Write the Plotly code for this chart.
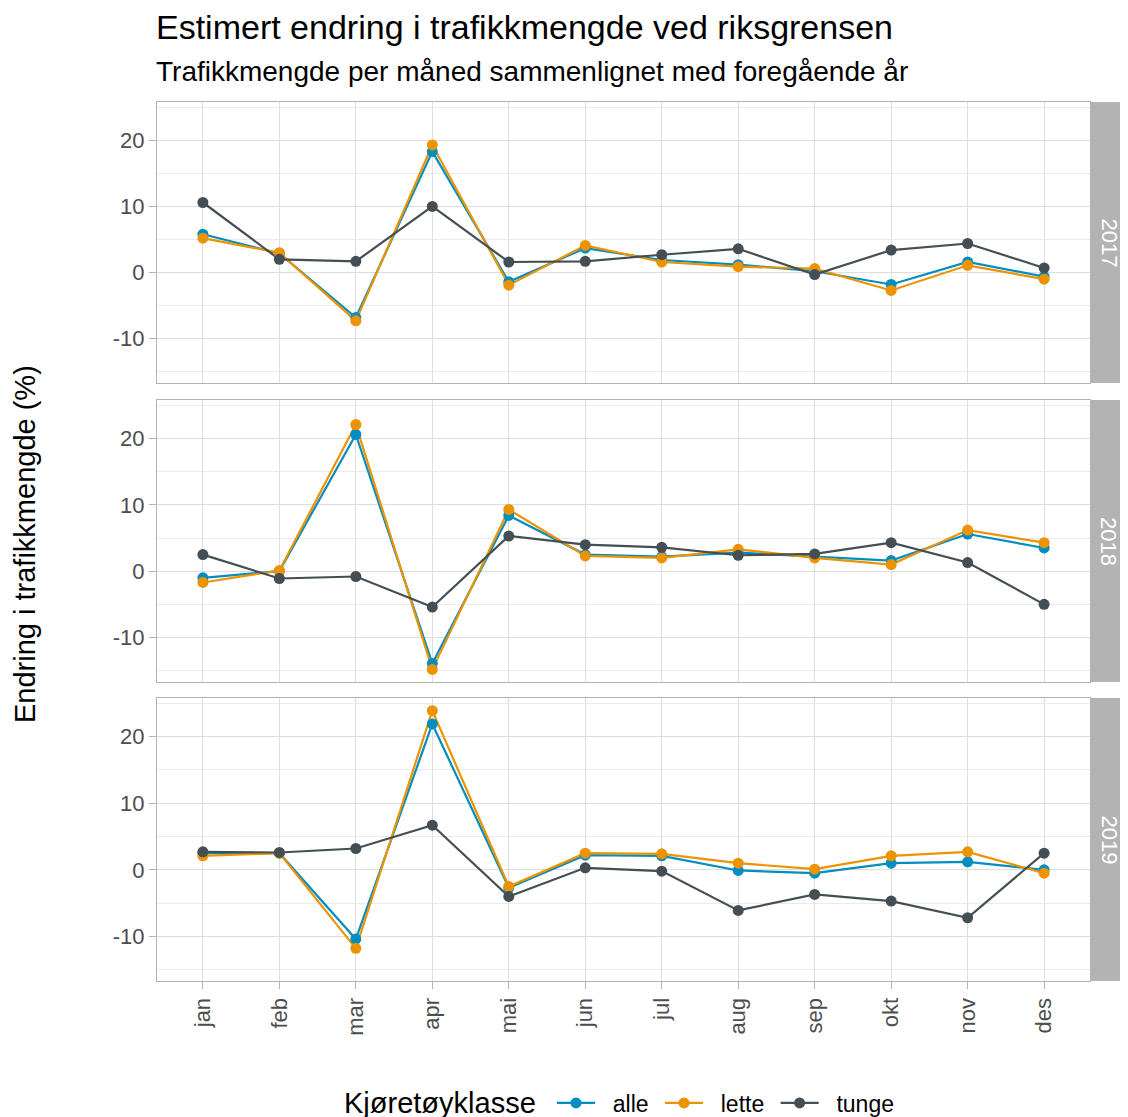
import plotly.graph_objects as go
from plotly.subplots import make_subplots

months = ["jan", "feb", "mar", "apr", "mai", "jun", "jul", "aug", "sep", "okt", "nov", "des"]
years = ["2017", "2018", "2019"]
classes = ["alle", "lette", "tunge"]

alle_2017 = [5.8, 2.9, -6.8, 18.3, -1.4, 3.7, 1.9, 1.2, 0.2, -1.8, 1.6, -0.6]
lette_2017 = [5.2, 3.0, -7.3, 19.3, -1.9, 4.1, 1.6, 0.9, 0.6, -2.7, 1.1, -1.0]
tunge_2017 = [10.6, 2.0, 1.7, 10.0, 1.6, 1.7, 2.7, 3.6, -0.3, 3.4, 4.4, 0.7]

alle_2018 = [-1.0, 0.0, 20.6, -13.9, 8.4, 2.5, 2.2, 2.8, 2.2, 1.6, 5.6, 3.5]
lette_2018 = [-1.7, 0.1, 22.1, -14.8, 9.3, 2.3, 2.0, 3.3, 2.0, 1.0, 6.2, 4.3]
tunge_2018 = [2.5, -1.1, -0.8, -5.4, 5.3, 4.0, 3.6, 2.4, 2.6, 4.3, 1.3, -5.0]

alle_2019 = [2.5, 2.5, -10.4, 21.9, -2.7, 2.2, 2.1, -0.1, -0.5, 1.0, 1.2, 0.0]
lette_2019 = [2.1, 2.5, -11.8, 23.9, -2.5, 2.5, 2.4, 1.0, 0.1, 2.1, 2.7, -0.5]
tunge_2019 = [2.7, 2.6, 3.2, 6.7, -4.0, 0.3, -0.2, -6.1, -3.7, -4.7, -7.2, 2.5]

y_ticks = [-10, 0, 10, 20]

data = {
    "2017": {"alle": alle_2017, "lette": lette_2017, "tunge": tunge_2017},
    "2018": {"alle": alle_2018, "lette": lette_2018, "tunge": tunge_2018},
    "2019": {"alle": alle_2019, "lette": lette_2019, "tunge": tunge_2019},
}
colors = {"alle": "#008EC2", "lette": "#ED9300", "tunge": "#444F55"}

FONT = "Liberation Sans, Arial, sans-serif"
OFF = 8  # page body margin
W, H = 1128 - OFF, 1117 - OFF
# plot area in page pixels: x 157..1090, y 102..981
L, R, T, B = 157 - OFF, 1128 - 1090, 102 - OFF, 1117 - 981
pw, ph = W - L - R, H - T - B
BOT = 981  # page y of plot-area bottom

panels_px = [(102, 383), (400, 682), (698, 981)]
domains = [[(BOT - b) / ph, (BOT - t) / ph] for (t, b) in panels_px]


def py(page_y):
    return (BOT - page_y) / ph


def px(page_x):
    return (page_x - 157) / pw


fig = make_subplots(rows=3, cols=1, shared_xaxes=True)

for i, yr in enumerate(years):
    r = i + 1
    for c in classes:
        fig.add_trace(go.Scatter(x=months, y=data[yr][c], mode="lines",
                                 line=dict(color=colors[c], width=2.2),
                                 showlegend=False, hoverinfo="skip"), row=r, col=1)
    for c in classes:
        fig.add_trace(go.Scatter(x=months, y=data[yr][c], mode="markers",
                                 marker=dict(color=colors[c], size=11),
                                 showlegend=False, name=c), row=r, col=1)

NB = "\u00a0"
for c in classes:
    fig.add_trace(go.Scatter(x=[None], y=[None], mode="lines+markers",
                             name=NB * 2 + c + NB,
                             line=dict(color=colors[c], width=2.2),
                             marker=dict(color=colors[c], size=11),
                             showlegend=True), row=3, col=1)

yrange = [-16.7, 25.8]
for i in range(3):
    r = i + 1
    fig.update_yaxes(row=r, col=1, domain=domains[i], range=yrange, automargin=False,
                     tickvals=y_ticks, ticktext=[str(v) for v in y_ticks],
                     showgrid=True, gridcolor="#DEDEDE", gridwidth=1.3,
                     minor=dict(tick0=5, dtick=10, showgrid=True, gridcolor="#EBEBEB", gridwidth=0.8),
                     zeroline=False, showline=True, mirror=True, linecolor="#B3B3B3", linewidth=1.2,
                     ticks="outside", ticklen=7, tickcolor="#B3B3B3", tickwidth=1.2,
                     tickfont=dict(family=FONT, size=22, color="#4D4D4D"))
    fig.update_xaxes(row=r, col=1, range=[-0.6, 11.6], categoryorder="array", categoryarray=months,
                     automargin=False,
                     showgrid=True, gridcolor="#DEDEDE", gridwidth=1.3,
                     zeroline=False, showline=True, mirror=True, linecolor="#B3B3B3", linewidth=1.2,
                     ticks="outside" if r == 3 else "", ticklen=7, tickcolor="#B3B3B3", tickwidth=1.2,
                     showticklabels=(r == 3), tickangle=-90,
                     tickfont=dict(family=FONT, size=22, color="#4D4D4D"))

    # strip
    fig.add_shape(type="rect", xref="paper", yref="paper",
                  x0=1.0, x1=1 + R / pw, y0=domains[i][0], y1=domains[i][1],
                  fillcolor="#B3B3B3", line=dict(width=0), layer="below")
    fig.add_annotation(xref="paper", yref="paper", x=1 + (R / 2) / pw,
                       y=(domains[i][0] + domains[i][1]) / 2, text=years[i],
                       textangle=90, showarrow=False,
                       font=dict(family=FONT, size=22, color="white"),
                       xanchor="center", yanchor="middle")

fig.add_annotation(xref="paper", yref="paper", x=px(154), y=py(27),
                   text="Estimert endring i trafikkmengde ved riksgrensen",
                   showarrow=False, xanchor="left", yanchor="middle",
                   font=dict(family=FONT, size=34, color="black"))
fig.add_annotation(xref="paper", yref="paper", x=px(154), y=py(72),
                   text="Trafikkmengde per måned sammenlignet med foregående år",
                   showarrow=False, xanchor="left", yanchor="middle",
                   font=dict(family=FONT, size=28, color="black"))
fig.add_annotation(xref="paper", yref="paper", x=px(25), y=py(544),
                   text="Endring i trafikkmengde (%)", textangle=-90,
                   showarrow=False, xanchor="center", yanchor="middle",
                   font=dict(family=FONT, size=29, color="black"))
# legend title
fig.add_annotation(xref="paper", yref="paper", x=px(342), y=py(1103),
                   text="Kjøretøyklasse", showarrow=False,
                   xanchor="left", yanchor="middle",
                   font=dict(family=FONT, size=29, color="black"))

fig.update_layout(
    width=W, height=H, autosize=False,
    margin=dict(l=L, r=R, t=T, b=B, autoexpand=False),
    plot_bgcolor="white", paper_bgcolor="white",
    font=dict(family=FONT),
    legend=dict(orientation="h", x=px(552), xanchor="left", y=py(1103), yanchor="middle",
                font=dict(family=FONT, size=23, color="black"), itemwidth=38,
                bgcolor="rgba(0,0,0,0)"),
)

fig.write_html("out.html")
